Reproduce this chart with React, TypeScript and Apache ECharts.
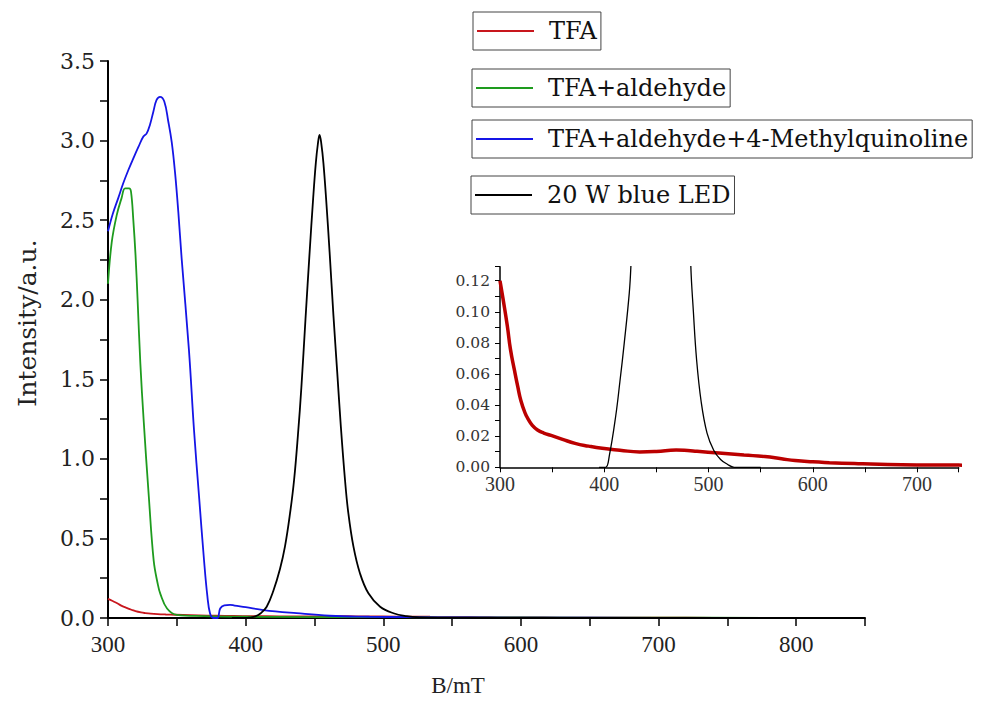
import React, { useEffect, useRef } from "react";
import * as echarts from "echarts";

// ---- data ----
const TFA_B = [300, 303, 307, 310, 314, 317, 320, 324, 327, 331, 336, 342, 349, 360, 372, 385, 398, 415, 434, 450, 469, 480, 489, 510, 534, 554, 570, 583, 600, 616, 640, 664, 700, 740, 800, 850];
const TFA_I = [0.12, 0.108, 0.091, 0.076, 0.062, 0.052, 0.043, 0.035, 0.031, 0.027, 0.024, 0.022, 0.0205, 0.018, 0.0154, 0.0136, 0.0122, 0.011, 0.0099, 0.0102, 0.0111, 0.0108, 0.0103, 0.0092, 0.0079, 0.0069, 0.0055, 0.0043, 0.0035, 0.003, 0.0024, 0.0019, 0.0015, 0.0014, 0.0012, 0.0012];

const ALD_B = [300, 302.7, 306.3, 309.9, 312.4, 315.3, 316.7, 318.4, 320, 321.5, 323.5, 326, 329.6, 333.2, 336, 338.1, 342.9, 350, 370, 400, 450, 500, 600, 700, 800];
const ALD_I = [2.1, 2.36, 2.53, 2.64, 2.7, 2.7, 2.68, 2.5, 2.28, 2.0, 1.6, 1.23, 0.77, 0.36, 0.22, 0.15, 0.06, 0.02, 0.012, 0.008, 0.006, 0.005, 0.003, 0.002, 0.001];

const MQ_B = [300, 303.5, 307.5, 311, 314.8, 318.5, 322.1, 325.7, 328.1, 330.5, 332.9, 335.3, 337.8, 340.9, 343.8, 346.3, 348.7, 351.1, 353.5, 358.8, 362.5, 366.1, 369.8, 372.2, 374.1, 376.5, 379.5, 381.5, 384.5, 388.7, 392, 400, 412.9, 437, 461, 490, 520, 560, 650, 750, 850];
const MQ_I = [2.43, 2.54, 2.64, 2.73, 2.815, 2.89, 2.96, 3.025, 3.045, 3.1, 3.18, 3.255, 3.275, 3.245, 3.12, 2.99, 2.8, 2.55, 2.26, 1.685, 1.18, 0.77, 0.36, 0.137, 0.03, 0, 0, 0.06, 0.08, 0.083, 0.078, 0.068, 0.05, 0.03, 0.014, 0.008, 0.005, 0.003, 0.002, 0.001, 0.001];

// blue LED, as drawn in the main plot
const LED_B = [390, 400, 403, 407, 411, 415.3, 420.1, 425, 428.6, 432.3, 435.2, 438, 440.5, 443.5, 446.5, 449, 451, 452.5, 453.7, 455, 456.5, 458.5, 461, 463.8, 466.5, 469.2, 472.2, 474.6, 478.3, 483.1, 489.2, 497.7, 507.4, 517, 527, 540, 600, 700, 850];
const LED_I = [0, 0, 0.003, 0.01, 0.03, 0.071, 0.17, 0.31, 0.45, 0.66, 0.867, 1.15, 1.45, 1.88, 2.3, 2.63, 2.86, 2.98, 3.035, 2.98, 2.86, 2.63, 2.3, 1.9, 1.55, 1.2, 0.867, 0.66, 0.45, 0.28, 0.155, 0.071, 0.03, 0.012, 0.004, 0.001, 0, 0, 0];

// blue LED, as drawn in the inset
const LED_IN_B = [395, 401.3, 405, 411, 415, 419.2, 424, 425.6, 427, 430, 440, 453.7, 466, 478, 481.5, 483, 485.5, 488.6, 493, 498.6, 505, 511.6, 518, 524.6, 550];
const LED_IN_I = [0, 0, 0.008, 0.033, 0.055, 0.08, 0.112, 0.13, 0.16, 0.3, 1.5, 3.03, 1.5, 0.3, 0.18, 0.13, 0.1, 0.069, 0.042, 0.022, 0.011, 0.005, 0.002, 0, 0];

const NAMES = ["TFA", "TFA+aldehyde", "TFA+aldehyde+4-Methylquinoline", "20 W blue LED"];
const COLORS = ["#c8161d", "#1e9b1e", "#1515e6", "#000000"];
const LEGEND_TOPS = [12, 69, 120, 176];
const LEGEND_LEFTS = [473, 472, 472, 471];

const zip = (xs: number[], ys: number[]) => xs.map((x, i) => [x, ys[i]]);

const DSERIF = "DejaVu Serif";
const SERIF = "Liberation Serif";

export default function App() {
  const ref = useRef<HTMLDivElement>(null);
  useEffect(() => {
    if (!ref.current) return;
    const chart = echarts.init(ref.current, undefined, { renderer: "svg" });
    const isStep = (v: number, step: number) => Math.abs(v / step - Math.round(v / step)) < 1e-6;

    const mainLine = (idx: number, data: number[][]) => ({
      type: "line",
      name: NAMES[idx],
      xAxisIndex: 0,
      yAxisIndex: 0,
      data,
      color: COLORS[idx],
      showSymbol: false,
      symbol: "none",
      smooth: 0.4,
      lineStyle: { width: 1.8, color: COLORS[idx] },
      emphasis: { disabled: true },
    });

    chart.setOption({
      animation: false,
      backgroundColor: "#ffffff",
      legend: NAMES.map((n, i) => ({
        data: [{ name: n }],
        left: LEGEND_LEFTS[i],
        top: LEGEND_TOPS[i],
        orient: "horizontal",
        icon: "rect",
        itemWidth: 57,
        itemHeight: 2,
        selectedMode: false,
        borderColor: "#444",
        borderWidth: 1,
        padding: [5, 4, 5, 4],
        textStyle: {
          fontFamily: DSERIF,
          fontSize: 24,
          lineHeight: 28,
          color: "#111",
          padding: [0, 0, 0, 10],
        },
      })),
      grid: [
        { left: 108, top: 61, width: 757, height: 557 },
        { left: 500, top: 266.7, width: 458.7, height: 200.6 },
      ],
      xAxis: [
        {
          type: "value",
          gridIndex: 0,
          min: 300,
          max: 850,
          interval: 50,
          name: "B/mT",
          nameLocation: "middle",
          nameGap: 56,
          nameTextStyle: { fontFamily: SERIF, fontSize: 23, color: "#222", padding: [0, 57, 0, 0] },
          axisLine: { lineStyle: { color: "#000", width: 2 } },
          axisTick: { inside: false, length: 8, lineStyle: { color: "#000", width: 1.5 } },
          axisLabel: {
            fontFamily: SERIF,
            fontSize: 23,
            color: "#222",
            margin: 15,
            formatter: (v: number) => (isStep(v, 100) ? String(Math.round(v)) : ""),
          },
          splitLine: { show: false },
        },
        {
          type: "value",
          gridIndex: 1,
          min: 300,
          max: 740,
          interval: 50,
          axisLine: { lineStyle: { color: "#000", width: 1.5 } },
          axisTick: { inside: false, length: 5, lineStyle: { color: "#000", width: 1 } },
          axisLabel: {
            fontFamily: SERIF,
            fontSize: 20,
            color: "#333",
            margin: 7,
            formatter: (v: number) => (isStep(v, 100) ? String(Math.round(v)) : ""),
          },
          splitLine: { show: false },
        },
      ],
      yAxis: [
        {
          type: "value",
          gridIndex: 0,
          min: 0,
          max: 3.5,
          interval: 0.25,
          name: "Intensity/a.u.",
          nameLocation: "middle",
          nameGap: 68,
          nameTextStyle: { fontFamily: DSERIF, fontSize: 25, color: "#222", padding: [0, 0, 0, 33] },
          axisLine: { lineStyle: { color: "#000", width: 2 } },
          axisTick: { inside: false, length: 8, lineStyle: { color: "#000", width: 1.5 } },
          axisLabel: {
            fontFamily: DSERIF,
            fontSize: 22,
            color: "#222",
            margin: 13,
            formatter: (v: number) => (isStep(v, 0.5) ? v.toFixed(1) : ""),
          },
          splitLine: { show: false },
        },
        {
          type: "value",
          gridIndex: 1,
          min: 0,
          max: 0.129,
          interval: 0.01,
          axisLine: { lineStyle: { color: "#000", width: 1.5 } },
          axisTick: { inside: false, length: 5, lineStyle: { color: "#000", width: 1 } },
          axisLabel: {
            fontFamily: DSERIF,
            fontSize: 15.5,
            color: "#333",
            margin: 10,
            formatter: (v: number) => (isStep(v, 0.02) ? v.toFixed(2) : ""),
          },
          splitLine: { show: false },
        },
      ],
      series: [
        mainLine(0, zip(TFA_B, TFA_I)),
        mainLine(1, zip(ALD_B, ALD_I)),
        mainLine(2, zip(MQ_B, MQ_I)),
        mainLine(3, zip(LED_B, LED_I)),
        {
          type: "line",
          name: NAMES[0],
          xAxisIndex: 1,
          yAxisIndex: 1,
          data: zip(TFA_B, TFA_I),
          color: "#bb0000",
          symbol: "none",
          smooth: 0.5,
          clip: true,
          lineStyle: { width: 3.5, color: "#bb0000" },
          emphasis: { disabled: true },
        },
        {
          type: "line",
          name: NAMES[3],
          xAxisIndex: 1,
          yAxisIndex: 1,
          data: zip(LED_IN_B, LED_IN_I),
          color: "#000",
          symbol: "none",
          smooth: 0.4,
          clip: true,
          lineStyle: { width: 1.3, color: "#000" },
          emphasis: { disabled: true },
        },
      ],
    });
    return () => chart.dispose();
  }, []);
  return (
    <div
      ref={ref}
      style={{ position: "fixed", left: 0, top: 0, width: 1004, height: 704, background: "#fff" }}
    />
  );
}
